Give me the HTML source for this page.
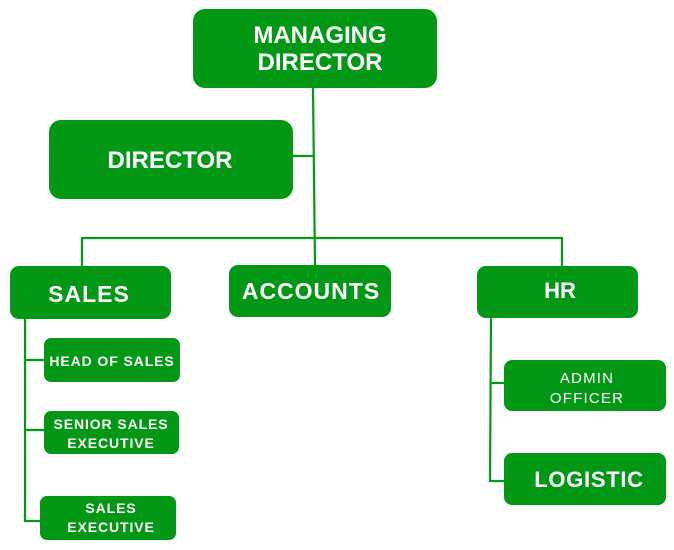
<!DOCTYPE html>
<html><head><meta charset="utf-8"><style>
html,body{margin:0;padding:0;background:#fff;}
svg{display:block;}
text{font-family:"Liberation Sans",Arial,sans-serif;fill:#fff;}
</style></head><body>
<svg width="674" height="550" viewBox="0 0 674 550" xmlns="http://www.w3.org/2000/svg">
<g stroke="#029a17" stroke-width="2.2" fill="none">
<line x1="313" y1="88" x2="315" y2="266"/>
<line x1="293" y1="156" x2="314" y2="156"/>
<line x1="81" y1="238" x2="563" y2="238"/>
<line x1="82" y1="237" x2="82" y2="266"/>
<line x1="562" y1="237" x2="562" y2="266"/>
<line x1="25" y1="319" x2="25" y2="521"/>
<line x1="24" y1="360" x2="44" y2="360"/>
<line x1="24" y1="430" x2="44" y2="430"/>
<line x1="24" y1="521" x2="40" y2="521"/>
<line x1="491" y1="318" x2="490" y2="482"/>
<line x1="490" y1="383" x2="504" y2="383"/>
<line x1="489" y1="481" x2="504" y2="481"/>
</g>
<g fill="#029816">
<rect x="193" y="9" width="244" height="79" rx="12"/>
<rect x="49" y="120" width="244" height="79" rx="12"/>
<rect x="10" y="266" width="161" height="53" rx="9"/>
<rect x="229" y="265" width="162" height="52" rx="9"/>
<rect x="477" y="266" width="161" height="52" rx="9"/>
<rect x="44" y="338" width="136" height="44" rx="7"/>
<rect x="44" y="411" width="135" height="43" rx="7"/>
<rect x="40" y="496" width="136" height="44" rx="7"/>
<rect x="504" y="360" width="162" height="51" rx="8"/>
<rect x="504" y="453" width="162" height="52" rx="8"/>
</g>
<g font-weight="bold" text-anchor="middle">
<text x="320" y="43" font-size="24">MANAGING</text>
<text x="320" y="70" font-size="24">DIRECTOR</text>
<text x="170" y="168" font-size="24">DIRECTOR</text>
<text x="89" y="302" font-size="23" letter-spacing="1">SALES</text>
<text x="311" y="299" font-size="23" letter-spacing="1">ACCOUNTS</text>
<text x="560" y="298" font-size="22">HR</text>
<text x="589" y="487" font-size="22" letter-spacing="0.7">LOGISTIC</text>
<text x="112" y="366" font-size="14" letter-spacing="0.9">HEAD OF SALES</text>
<text x="111" y="429" font-size="14" letter-spacing="0.9">SENIOR SALES</text>
<text x="111" y="448" font-size="14" letter-spacing="0.9">EXECUTIVE</text>
<text x="111" y="513" font-size="14" letter-spacing="0.9">SALES</text>
<text x="111" y="532" font-size="14" letter-spacing="0.9">EXECUTIVE</text>
</g>
<g text-anchor="middle" font-size="15" letter-spacing="1.2">
<text x="587" y="383">ADMIN</text>
<text x="587" y="403">OFFICER</text>
</g>
</svg>
</body></html>
